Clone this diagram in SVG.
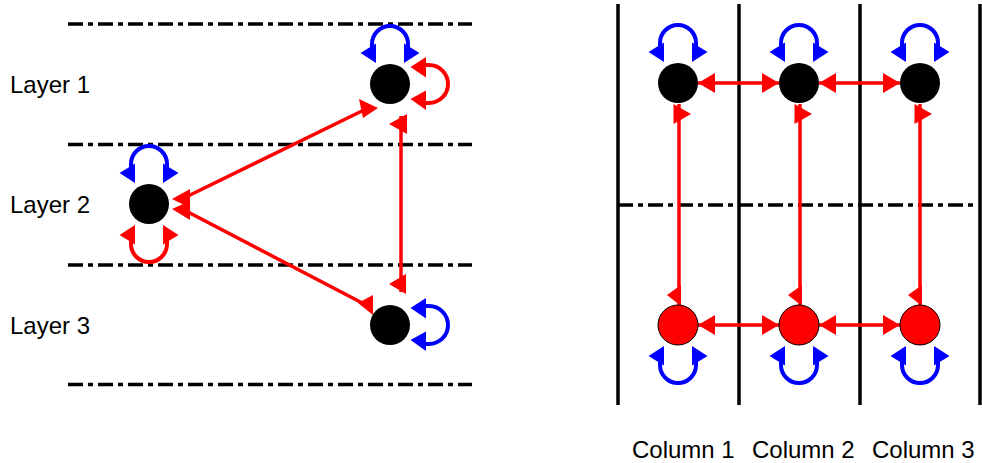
<svg xmlns="http://www.w3.org/2000/svg" xmlns:xlink="http://www.w3.org/1999/xlink" width="982" height="463" viewBox="0 0 982 463">
<style>
.sep{stroke:#000;stroke-width:3.5;stroke-dasharray:15 5 5 5;fill:none}
.col{stroke:#000;stroke-width:3.5;fill:none}
.lbl{font-family:"Liberation Sans",Arial,Helvetica,sans-serif;font-size:24px;fill:#000}
.node{fill:#000}
.rnode{fill:#f00;stroke:#000;stroke-width:1}
.rl{stroke:#f00;stroke-width:3.5;fill:none}
.rh{fill:#f00}
</style>
<defs>
<g id="loopTop">
<path d="M-18,-30 L-18,-40 A18,18 0 0 1 18,-40 L18,-30" fill="none" stroke="currentColor" stroke-width="4"/>
<polygon points="-29.5,-31 -14,-40.5 -14,-21" fill="currentColor"/>
<polygon points="29.5,-31 14,-40.5 14,-21" fill="currentColor"/>
</g>
<g id="loopRight">
<path d="M30,-19 L39,-19 A19,19 0 0 1 39,19 L30,19" fill="none" stroke="currentColor" stroke-width="4"/>
<polygon points="20.5,-17 36,-27 36,-6.5" fill="currentColor"/>
<polygon points="20.5,15 36,6.5 36,26" fill="currentColor"/>
</g>
<marker id="ah" viewBox="0 0 17 20" refX="17" refY="10" markerWidth="17" markerHeight="20" markerUnits="userSpaceOnUse" orient="auto-start-reverse">
<path d="M0,0 L17,10 L0,20 z" fill="#f00"/>
</marker>
</defs>

<g id="layer-separators">
<line class="sep" x1="68" y1="24" x2="472" y2="24"/>
<line class="sep" x1="68" y1="144.5" x2="472" y2="144.5"/>
<line class="sep" x1="68" y1="265" x2="472" y2="265"/>
<line class="sep" x1="68" y1="384.5" x2="472" y2="384.5"/>
</g>
<g id="column-grid">
<line class="col" x1="618" y1="4" x2="618" y2="405"/>
<line class="col" x1="739" y1="4" x2="739" y2="405"/>
<line class="col" x1="860" y1="4" x2="860" y2="405"/>
<line class="col" x1="980" y1="4" x2="980" y2="405"/>
<line class="sep" x1="618" y1="205" x2="976" y2="205"/>
</g>

<g id="labels">
<text class="lbl" x="10" y="93">Layer 1</text>
<text class="lbl" x="10" y="213">Layer 2</text>
<text class="lbl" x="10" y="334">Layer 3</text>
<text class="lbl" x="632" y="458">Column 1</text>
<text class="lbl" x="752" y="458">Column 2</text>
<text class="lbl" x="872" y="458">Column 3</text>
</g>

<g id="connectors">
<!-- left part -->
<use xlink:href="#loopTop" x="390" y="84" style="color:#00f"/>
<use xlink:href="#loopRight" x="390" y="84" style="color:#f00"/>
<use xlink:href="#loopTop" x="149" y="204" style="color:#00f"/>
<use xlink:href="#loopTop" transform="translate(149,204) scale(1,-1)" style="color:#f00"/>
<use xlink:href="#loopRight" x="390" y="325" style="color:#00f"/>
<line class="rl" x1="186" y1="197" x2="366" y2="109"/>
<polygon class="rh" points="359,99 378,108 363,118"/>
<polygon class="rh" points="172,199 190,189 190,208"/>
<line class="rl" x1="186" y1="211" x2="368" y2="306"/>
<polygon class="rh" points="172,209 190,201 190,220"/>
<polygon class="rh" points="358,303 373,295 373,315"/>
<line class="rl" x1="401" y1="116" x2="401" y2="292"/>
<polygon class="rh" points="389,124 407,114 407,134"/>
<polygon class="rh" points="389,284 406,274 406,294"/>
<!-- right part loops -->
<use xlink:href="#loopTop" x="678" y="83" style="color:#00f"/>
<use xlink:href="#loopTop" x="799" y="83" style="color:#00f"/>
<use xlink:href="#loopTop" x="920" y="83" style="color:#00f"/>
<use xlink:href="#loopTop" transform="translate(678,325) scale(1,-1)" style="color:#00f"/>
<use xlink:href="#loopTop" transform="translate(799,325) scale(1,-1)" style="color:#00f"/>
<use xlink:href="#loopTop" transform="translate(920,325) scale(1,-1)" style="color:#00f"/>
<!-- horizontal -->
<line class="rl" x1="698" y1="83" x2="779" y2="83" marker-start="url(#ah)" marker-end="url(#ah)"/>
<line class="rl" x1="819" y1="83" x2="900" y2="83" marker-start="url(#ah)" marker-end="url(#ah)"/>
<line class="rl" x1="698" y1="325" x2="779" y2="325" marker-start="url(#ah)" marker-end="url(#ah)"/>
<line class="rl" x1="819" y1="325" x2="900" y2="325" marker-start="url(#ah)" marker-end="url(#ah)"/>
<!-- vertical -->
<line class="rl" x1="679" y1="104" x2="679" y2="305"/>
<polygon class="rh" points="673.5,104 673.5,124 691,114"/>
<polygon class="rh" points="667,295 681,285 681,306"/>
<line class="rl" x1="800" y1="104" x2="800" y2="305"/>
<polygon class="rh" points="794.5,104 794.5,124 812,114"/>
<polygon class="rh" points="788,295 802,285 802,306"/>
<line class="rl" x1="920" y1="104" x2="920" y2="305"/>
<polygon class="rh" points="914.5,104 914.5,124 932,114"/>
<polygon class="rh" points="908,295 922,285 922,306"/>
</g>

<g id="node-layer1"><circle class="node" cx="390" cy="84" r="20"/></g>
<g id="node-layer2"><circle class="node" cx="149" cy="204" r="20"/></g>
<g id="node-layer3"><circle class="node" cx="390" cy="325" r="20"/></g>
<g id="node-c1-top"><circle class="node" cx="678" cy="83" r="20"/></g>
<g id="node-c2-top"><circle class="node" cx="799" cy="83" r="20"/></g>
<g id="node-c3-top"><circle class="node" cx="920" cy="83" r="20"/></g>
<g id="node-c1-bottom"><circle class="rnode" cx="678" cy="325" r="20"/></g>
<g id="node-c2-bottom"><circle class="rnode" cx="799" cy="325" r="20"/></g>
<g id="node-c3-bottom"><circle class="rnode" cx="920" cy="325" r="20"/></g>
</svg>
